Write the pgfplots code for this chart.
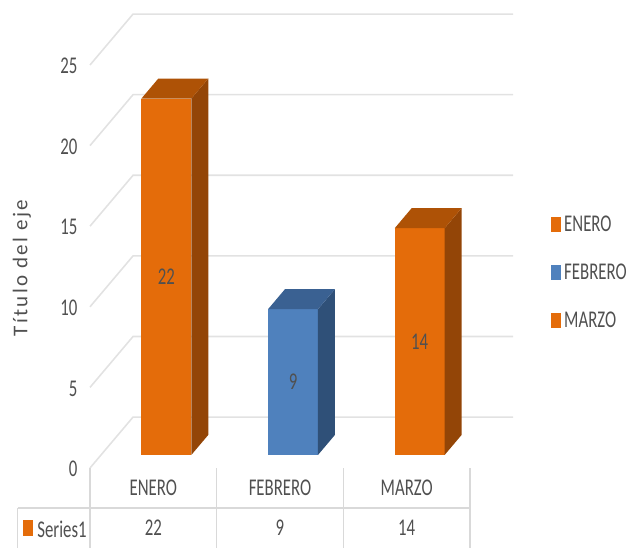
\documentclass[border=0pt]{standalone}
\usepackage{fontspec}
\setmainfont[FakeStretch=0.7]{Carlito}
\newfontfamily\ylabfont[LetterSpace=11]{Carlito}
\usepackage{pgfplots}
\pgfplotsset{compat=1.18}
\definecolor{naranja}{HTML}{E46C0A}
\definecolor{naranjalado}{HTML}{934507}
\definecolor{naranjatop}{HTML}{AE5206}
\definecolor{azul}{HTML}{4F81BD}
\definecolor{azullado}{HTML}{2F5078}
\definecolor{azultop}{HTML}{3A6192}
\definecolor{rejilla}{HTML}{E2E2E2}
\definecolor{tabla}{HTML}{D9D9D9}
\definecolor{txt}{HTML}{505050}
\newcommand{\txtfont}{\fontsize{24}{26}\selectfont\color{txt}}
\begin{document}
\begin{tikzpicture}[font=\txtfont]
% 1pt = 1px of the reference, origin at the front corner of the floor
\useasboundingbox (-90pt,-80pt) rectangle (538pt,468pt);
% front plane: ticks, labels, walls
\begin{axis}[
  at={(0pt,0pt)}, anchor=south west,
  x=126.67pt, y=16.12pt,
  xmin=-0.5, xmax=2.5, ymin=0, ymax=25,
  clip=false,
  axis line style={draw=none},
  major tick style={draw=none},
  minor tick style={draw=none},
  xtick={0,1,2},
  xticklabels={ENERO,FEBRERO,MARZO},
  ytick={0,5,10,15,20,25},
  yticklabel style={/pgf/number format/assume math mode=true},
  xticklabel style={yshift=-8pt},
  yticklabel style={xshift=-9pt, yshift=-1pt},
  ylabel={\ylabfont\fontsize{21}{23}\selectfont Título del eje},
  ylabel style={at={(axis description cs:-0.179,0.496)}, anchor=center},
]
\addplot[rejilla, line width=1.6pt] coordinates {(-0.5,0) (-0.16,3.16) (2.84,3.16)};
\addplot[rejilla, line width=1.6pt] coordinates {(-0.5,5) (-0.16,8.16) (2.84,8.16)};
\addplot[rejilla, line width=1.6pt] coordinates {(-0.5,10) (-0.16,13.16) (2.84,13.16)};
\addplot[rejilla, line width=1.6pt] coordinates {(-0.5,15) (-0.16,18.16) (2.84,18.16)};
\addplot[rejilla, line width=1.6pt] coordinates {(-0.5,20) (-0.16,23.16) (2.84,23.16)};
\addplot[rejilla, line width=1.6pt] coordinates {(-0.5,25) (-0.16,28.16) (2.84,28.16)};
% data table under the chart
\draw[tabla, line width=1.2pt] (axis cs:-1.07,-2.48) -- (axis cs:2.5,-2.48);
\draw[tabla, line width=1.2pt] (axis cs:-1.07,-2.48) -- (axis cs:-1.07,-4.96);
\draw[tabla, line width=1.2pt] (axis cs:-0.5,0) -- (axis cs:-0.5,-4.96);
\draw[tabla, line width=1.2pt] (axis cs:0.5,0) -- (axis cs:0.5,-4.96);
\draw[tabla, line width=1.2pt] (axis cs:1.5,0) -- (axis cs:1.5,-4.96);
\draw[tabla, line width=1.2pt] (axis cs:2.5,0) -- (axis cs:2.5,-4.96);
\fill[naranja] (-67pt,-68pt) rectangle (-57pt,-52pt);
\node at (-28pt,-61pt) {Series1};
\node at (axis cs:0,-3.72) {22};
\node at (axis cs:1,-3.72) {9};
\node at (axis cs:2,-3.72) {14};
\end{axis}
% bars stand a little behind the front plane
\begin{axis}[
  at={(13pt,13pt)}, anchor=south west,
  x=126.67pt, y=16.2pt,
  xmin=-0.5, xmax=2.5, ymin=0, ymax=25,
  clip=false,
  hide axis,
  legend image code/.code={\fill[#1] (0pt,-8pt) rectangle (10pt,7pt);},
  legend style={
    at={(1.179,0.451)}, anchor=west,
    draw=none, fill=none,
    row sep=25pt, inner sep=0pt,
    nodes={inner sep=3pt},
    font=\txtfont,
  },
  legend cell align=left,
]
\addplot[ybar, bar width=50pt, bar shift=0pt, fill=naranja, draw=none] coordinates {(0,22)};
\addplot[ybar, bar width=50pt, bar shift=0pt, fill=azul, draw=none] coordinates {(1,9)};
\addplot[ybar, bar width=50pt, bar shift=0pt, fill=naranja, draw=none] coordinates {(2,14)};
% side faces
\addplot[forget plot, fill=naranjalado, draw=none] coordinates {(0.197,0) (0.331,1.24) (0.331,23.24) (0.197,22)} --cycle;
\addplot[forget plot, fill=azullado, draw=none] coordinates {(1.197,0) (1.331,1.24) (1.331,10.24) (1.197,9)} --cycle;
\addplot[forget plot, fill=naranjalado, draw=none] coordinates {(2.197,0) (2.331,1.24) (2.331,15.24) (2.197,14)} --cycle;
% top faces
\addplot[forget plot, fill=naranjatop, draw=none] coordinates {(-0.197,22) (0.197,22) (0.331,23.24) (-0.063,23.24)} --cycle;
\addplot[forget plot, fill=azultop, draw=none] coordinates {(0.803,9) (1.197,9) (1.331,10.24) (0.937,10.24)} --cycle;
\addplot[forget plot, fill=naranjatop, draw=none] coordinates {(1.803,14) (2.197,14) (2.331,15.24) (1.937,15.24)} --cycle;
\node at (axis cs:0,11) {22};
\node at (axis cs:1,4.5) {9};
\node at (axis cs:2,7) {14};
\legend{ENERO,FEBRERO,MARZO}
\end{axis}
\end{tikzpicture}
\end{document}
